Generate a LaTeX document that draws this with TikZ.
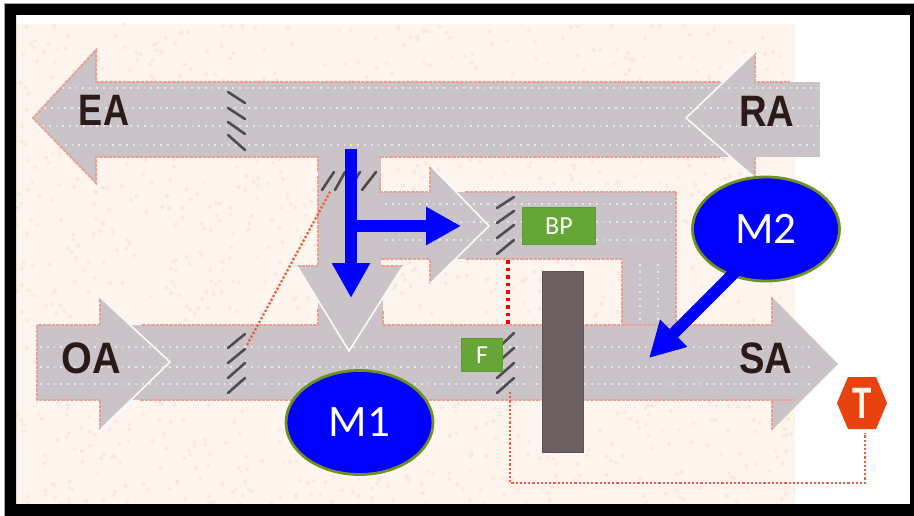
\documentclass[tikz,border=0pt]{standalone}
\usepackage{fontspec}
\setmainfont{Carlito}
\newfontfamily\labelfont[Scale=1]{Liberation Sans}
\usetikzlibrary{arrows.meta,shapes.geometric}
\definecolor{paper}{HTML}{FEF5EE}
\definecolor{blotch}{HTML}{FAE4DA}
\definecolor{duct}{HTML}{CAC4C9}
\definecolor{edgered}{HTML}{E6A297}
\definecolor{wireorange}{HTML}{E8603C}
\definecolor{mblue}{HTML}{0000FF}
\definecolor{molive}{HTML}{6F8F1F}
\definecolor{tagfill}{HTML}{66A637}
\definecolor{tagedge}{HTML}{5E9A33}
\definecolor{ink}{HTML}{2A1A1A}
\definecolor{coil}{HTML}{6B6062}
\definecolor{slat}{HTML}{4F4B4E}
\definecolor{hexfill}{HTML}{E8420E}
\tikzset{
  ductfill/.style={fill=duct,draw=none},
  ductedge/.style={draw=edgered,line width=2pt,dash pattern=on 3.5pt off 1pt},
  notch/.style={draw=white!92!duct,line width=1.6pt},
  speck/.style={draw=white,line width=1.6pt,dash pattern=on 1.8pt off 5pt,opacity=.6},
  damperslat/.style={draw=slat,line width=2.6pt,line cap=round},
  ductlabel/.style={font=\labelfont\bfseries\fontsize{44}{48}\selectfont,text=ink,inner sep=0pt},
  mcircle/.style={ellipse,draw=molive,line width=2.8pt,fill=mblue,text=white,
    minimum width=147pt,minimum height=104pt,inner sep=0pt,font=\fontsize{45}{50}\selectfont},
  tagbox/.style={draw=tagedge,line width=1pt,fill=tagfill,text=white,inner sep=0pt,
    font=\fontsize{26}{30}\selectfont},
  bluearrow/.style={draw=mblue,line width=12pt,-{Triangle[length=35pt,width=36pt]}},
  tempwire/.style={draw=wireorange,line width=2.3pt,dash pattern=on 2.2pt off 2pt},
  redwire/.style={draw=red,line width=3.4pt,dash pattern=on 3.5pt off 4pt}
}
\begin{document}
\begin{tikzpicture}[x=1pt,y=-1pt]
\useasboundingbox (0,0) rectangle (914,516);
\fill[white] (0,0) rectangle (914,516);
% paper
\fill[paper] (16,24) rectangle (795,505);
\pgfmathsetseed{42}
\begin{scope}
\clip (16,24) rectangle (795,505);
\foreach \i in {1,...,1400}{
  \pgfmathsetmacro{\px}{16+779*rnd}
  \pgfmathsetmacro{\py}{24+481*rnd}
  \fill[blotch,opacity=.7] (\px,\py) circle[radius=2pt];
}
\end{scope}
% duct bodies
\path[ductfill] (33,118) -- (96,50) -- (96,183) -- cycle;
\path[ductfill] (96,82) rectangle (820,157);
\path[ductfill] (755,52) -- (686,118) -- (755,178) -- cycle;
\path[ductfill] (37,325) rectangle (772,400);
\path[ductfill] (100,297) -- (170,362) -- (100,430) -- cycle;
\path[ductfill] (772,297) -- (838,364) -- (772,430) -- cycle;
\path[ductfill] (318,157) rectangle (381,266);
\path[ductfill] (297,266) -- (403,266) -- (349,351) -- cycle;
\path[ductfill] (318,300) rectangle (383,326);
\path[ductfill] (381,192) rectangle (676,259);
\path[ductfill] (430,165) -- (489,226) -- (430,284) -- cycle;
\path[ductfill] (622,259) rectangle (676,330);
% speckle rows
\foreach \xs/\yy in {62/88,44/108,42/126,58/145}{\draw[speck] (\xs,\yy) -- (818,\yy);}
\foreach \yy in {347,367,384}{\draw[speck] (40,\yy) -- (815,\yy);}
\foreach \yy in {204,222,240}{\draw[speck] (385,\yy) -- (674,\yy);}
\foreach \xx in {640,658}{\draw[speck] (\xx,264) -- (\xx,324);}
% duct edges
\draw[ductedge] (720,82) -- (96,82) -- (96,50) -- (33,118) -- (96,183) -- (96,157) -- (318,157) -- (318,172);
\draw[ductedge] (380,157) -- (720,157);
\draw[ductedge] (380,178) -- (380,192) -- (430,192) -- (430,165);
\draw[ductedge] (465,192) -- (676,192) -- (676,326);
\draw[ductedge] (381,259) -- (430,259) -- (430,284);
\draw[ductedge] (466,259) -- (622,259) -- (622,326);
\draw[ductedge] (755,157) -- (755,178);
\draw[ductedge] (755,52) -- (755,82) -- (790,82);
\draw[ductedge] (100,325) -- (37,325) -- (37,400) -- (100,400);
\draw[ductedge] (142,325) -- (318,325) -- (318,309);
\draw[ductedge] (383,311) -- (383,325) -- (772,325);
\draw[ductedge] (140,400) -- (795,400);
\draw[ductedge] (297,266) -- (318,266);
\draw[ductedge] (381,266) -- (403,266);
\draw[ductedge] (318,176) -- (318,266);
\draw[ductedge] (100,325) -- (100,297);
\draw[ductedge] (100,400) -- (100,430);
\draw[ductedge] (772,297) -- (772,325);
\draw[ductedge] (772,400) -- (772,430);
% white head outlines
\draw[notch] (755,52) -- (686,118) -- (755,178);
\draw[notch] (297,266) -- (349,351) -- (403,266);
\draw[notch] (430,165) -- (489,226) -- (430,284);
\draw[notch] (100,297) -- (170,362) -- (100,430);
% coil
\draw[fill=coil,draw=coil!85!black,line width=1pt] (542,271) rectangle (583,452);
% dampers
\foreach \ya/\yb in {92/103,108/119,122/134,135/150}{\draw[damperslat] (228,\ya) -- (245,\yb);}
\foreach \xa/\xb in {322/334,335/345,349/360,362/376}{\draw[damperslat] (\xa,190) -- (\xb,172);}
\foreach \ya/\yb in {348/334,363/349,378/363,393/378}{\draw[damperslat] (228,\ya) -- (245,\yb);}
\foreach \ya/\yb in {208/197,223/211,238/225,254/240}{\draw[damperslat] (497,\ya) -- (514,\yb);}
\foreach \ya/\yb in {349/333,363/348,378/363,393/378}{\draw[damperslat] (497,\ya) -- (514,\yb);}
% text labels in ducts
\node[ductlabel] (ea) at (104,110) {\scalebox{.82}[1]{EA}};
\node[ductlabel] (ra) at (767,111) {\scalebox{.87}[1]{RA}};
\node[ductlabel] (oa) at (91,358) {\scalebox{.9}[1]{OA}};
\node[ductlabel] (sa) at (766,358) {\scalebox{.87}[1]{SA}};
% T sensor
\fill[hexfill] (837,403) -- (848,377) -- (876,377) -- (887,403) -- (876,429) -- (848,429) -- cycle;
\node[font=\labelfont\bfseries\fontsize{44}{48}\selectfont,text=paper,inner sep=0pt] (tsensor) at (862,403) {\scalebox{.72}[1]{T}};
% wires
\coordinate (oadamper) at (247,345);
\coordinate (dropdamper) at (331,190);
\coordinate (fdamper) at (510,392);
\coordinate (wirecorner) at (865,483);
\coordinate (tfoot) at (865,433);
\coordinate (bpfoot) at (508,260);
\coordinate (ftop) at (508,327);
\draw[tempwire] (oadamper) -- (dropdamper);
\draw[tempwire] (fdamper) |- (wirecorner) -- (tfoot);
\draw[redwire] (bpfoot) -- (ftop);
% tags
\node[tagbox,minimum width=73pt,minimum height=37pt] (bp) at (559,226) {BP};
\node[tagbox,minimum width=41pt,minimum height=33pt] (f) at (482,355) {F};
% blue ellipses
\node[mcircle] (m1) at (359.5,422.5) {M1};
\node[mcircle] (m2) at (766,229) {M2};
% blue arrows
\coordinate (mtop) at (351,149);
\coordinate (mdown) at (351,298);
\coordinate (mjoin) at (351,226);
\coordinate (mright) at (461,226);
\coordinate (msa) at (649,358);
\coordinate (m2foot) at (735,272);
\draw[bluearrow] (mtop) -- (mdown);
\draw[bluearrow] (mjoin) -- (mright);
\draw[bluearrow] (m2foot) -- (msa);
% frame
\fill[black,even odd rule] (5,4) rectangle (914,516) (16,15) rectangle (910,504);
\draw[gray!70,line width=1pt] (4.5,516) -- (4.5,3.5) -- (914,3.5);
\end{tikzpicture}
\end{document}
